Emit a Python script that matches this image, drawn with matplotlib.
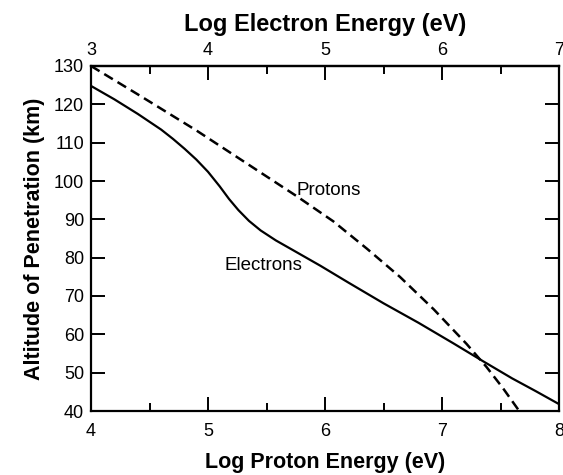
import matplotlib
matplotlib.use("Agg")
import matplotlib.pyplot as plt
from matplotlib.ticker import MultipleLocator

plt.rcParams['font.family'] = ['Liberation Sans', 'DejaVu Sans']

# Data (x = log proton energy, eV; y = altitude, km)
electron_x = [4.00, 4.20, 4.40, 4.60, 4.70, 4.80, 4.90, 5.00, 5.10, 5.18, 5.26, 5.35, 5.45,
              5.58, 5.73, 5.96, 6.20, 6.50, 6.80, 7.10, 7.35, 7.60, 7.80, 8.00]
electron_y = [124.8, 121.3, 117.5, 113.4, 111.0, 108.4, 105.6, 102.4, 98.6, 95.3, 92.4, 89.6, 87.1,
              84.5, 81.9, 77.9, 73.5, 68.1, 63.0, 57.6, 53.0, 48.5, 45.2, 41.8]

proton_x = [4.00, 4.40, 4.90, 5.36, 5.76, 6.07, 6.36, 6.64, 6.93, 7.21, 7.38, 7.52, 7.66]
proton_y = [130.0, 122.6, 113.2, 104.0, 96.0, 89.5, 82.3, 75.0, 66.5, 57.5, 51.5, 46.0, 40.0]

bottom_ticks = [4, 5, 6, 7, 8]
top_ticks = [3, 4, 5, 6, 7]
y_ticks = [40, 50, 60, 70, 80, 90, 100, 110, 120, 130]

fig = plt.figure(figsize=(5.63, 4.75), dpi=100)
ax = fig.add_axes([91/563, 64/475, 468/563, 345/475])

ax.plot(electron_x, electron_y, color='black', lw=1.6, solid_joinstyle='round')
ax.plot(proton_x, proton_y, color='black', lw=1.8, linestyle=(0, (4.0, 2.2)))

ax.set_xlim(4, 8)
ax.set_ylim(40, 130)
ax.set_xticks(bottom_ticks)
ax.set_yticks(y_ticks)
ax.xaxis.set_minor_locator(MultipleLocator(0.5))

for s in ax.spines.values():
    s.set_linewidth(1.6)

ax.tick_params(axis='x', which='major', direction='in', length=10, width=1.4,
               labelsize=13, pad=9, top=False)
ax.tick_params(axis='x', which='minor', direction='in', length=6, width=1.4, top=False)
ax.tick_params(axis='y', which='major', direction='in', length=10, width=1.4,
               labelsize=13, pad=5, right=True)

ax.set_xlabel('Log Proton Energy (eV)', fontsize=15.5, fontweight='bold', labelpad=8)
ax.set_ylabel('Altitude of Penetration (km)', fontsize=15.5, fontweight='bold', labelpad=6)

secax = ax.secondary_xaxis('top', functions=(lambda x: x - 1, lambda x: x + 1))
secax.set_xticks(top_ticks)
secax.xaxis.set_minor_locator(MultipleLocator(0.5))
secax.tick_params(axis='x', which='major', direction='in', length=10, width=1.4,
                  labelsize=13, pad=5)
secax.tick_params(axis='x', which='minor', direction='in', length=6, width=1.4)
secax.spines['top'].set_linewidth(1.6)
secax.set_xlabel('Log Electron Energy (eV)', fontsize=17, fontweight='bold', labelpad=8)

ax.text(5.76, 97.5, 'Protons', fontsize=13.5, va='center', ha='left')
ax.text(5.14, 78.0, 'Electrons', fontsize=13.5, va='center', ha='left')

fig.savefig('out.png', dpi=100, facecolor='white')
